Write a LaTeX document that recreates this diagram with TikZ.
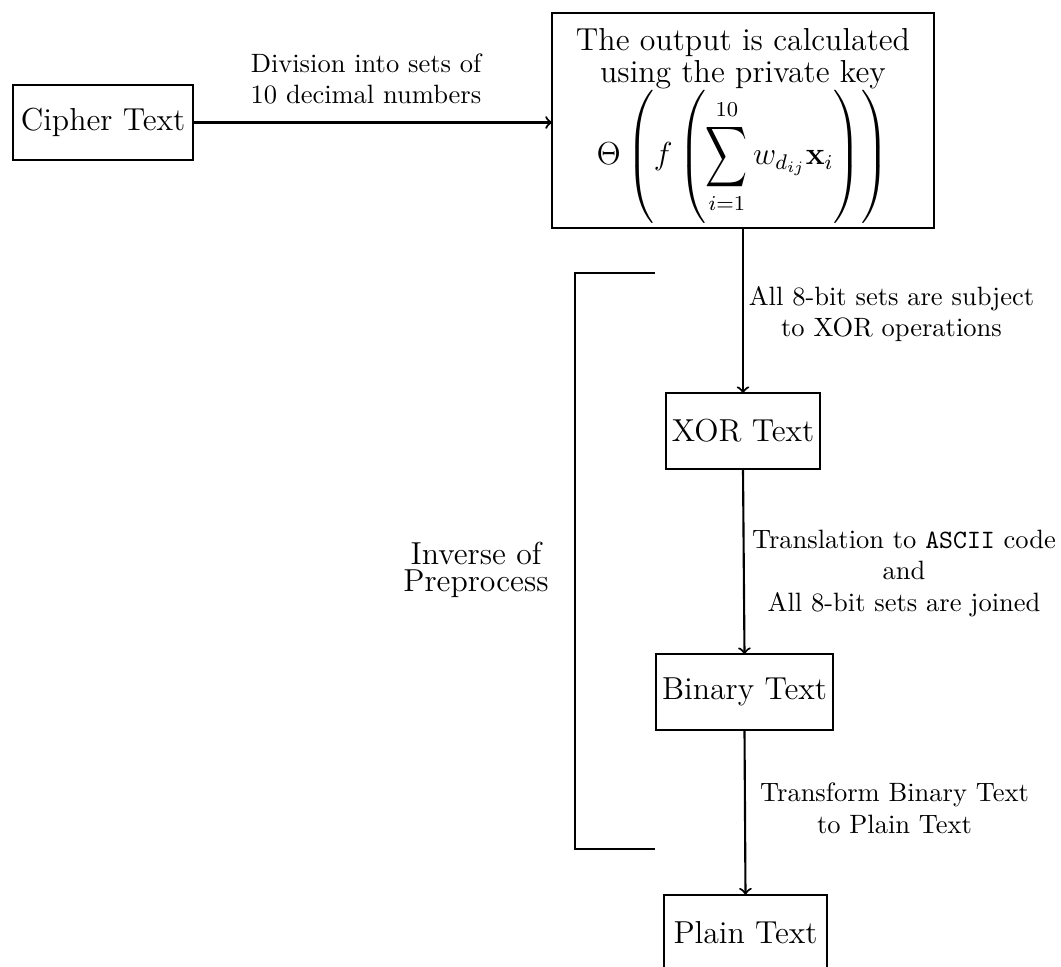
\documentclass[tikz,border=0pt]{standalone}
\usepackage{amsmath}
\usepackage{graphicx}
\tikzset{
  px/.style={x=0.37736pt,y=-0.37736pt},
  stage/.style={draw, line width=0.8pt, font=\large, minimum height=1cm,
                inner xsep=2.2pt, inner ysep=0pt, outer sep=0pt},
  flow/.style={->, line width=0.8pt},
  note/.style={align=center, font=\normalsize, inner sep=0pt},
  brace line/.style={line width=0.75pt},
}
% tall summation sign and fixed-size delimiters for the output formula
\newcommand{\tallsum}{\mathop{\vcenter{\hbox{\scalebox{0.915}[1.33]{$\displaystyle\sum$}}}}\limits}
\newcommand{\struta}{\vrule width 0pt height 27.5pt depth 21.5pt}
\newcommand{\strutb}{\vrule width 0pt height 29.5pt depth 23.5pt}
\begin{document}
\begin{tikzpicture}[px]
\useasboundingbox (0,0) rectangle (1061,967);

% stages of the decryption
\node[stage, minimum width=68pt] (cipher) at (103,122.5) {Cipher Text};
\node[stage, minimum width=144pt, minimum height=81.1pt, inner sep=0pt,
      align=center, font=\fontsize{12}{12}\selectfont] (calc) at (743,120.5)
  {\rule{0pt}{14pt}The output is calculated\\using the private key\\[-2pt]
   $\displaystyle\Theta\left(\strutb f\left(\struta\tallsum_{i=1}^{10} w_{d_{ij}}\mathbf{x}_i\right)\right)$};
\node[stage] (xor) at (743,431) {XOR Text};
\node[stage] (binary) at (744.5,692) {Binary Text};
\node[stage, minimum width=61.5pt] (plain) at (745.5,932.5) {Plain Text};

% connectors
\draw[flow] (cipher.east) -- (cipher.east -| calc.west);
\draw[flow] (calc.south) -- (xor.north);
\draw[flow] (xor.south) -- (binary.north);
\draw[flow] (binary.south) -- (plain.north);

% connector labels
\node[note] (divlab) at (366,79) {Division into sets of\\10 decimal numbers};
\node[note] (xorlab) at (891.5,314) {All 8-bit sets are subject\\to XOR operations};
\node[note] (asclab) at (904,573.5) {Translation to \texttt{ASCII} code\\and\\All 8-bit sets are joined};
\node[note] (txtlab) at (894.5,808) {Transform Binary Text\\to Plain Text};

% bracket grouping the inverse preprocessing steps
\coordinate (bracktop) at (655,273);
\coordinate (brackbot) at (655,849);
\draw[brace line] (bracktop) -- ++(-80,0) |- (brackbot);
\node[align=center, inner sep=0pt, font=\fontsize{12}{10.2}\selectfont] (inv) at (476,569.5) {Inverse of\\Preprocess};
\end{tikzpicture}
\end{document}
